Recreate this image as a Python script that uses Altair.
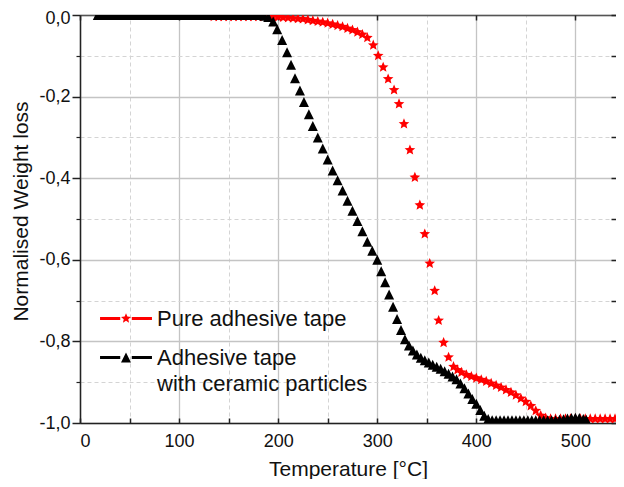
import math
import altair as alt
import pandas as pd

# ---------------- data ----------------
series_names = ["Pure adhesive tape", "Adhesive tape\nwith ceramic particles"]
series_colors = ["#ff0000", "#000000"]

red_temp = [20, 25, 30, 35,
            135, 140, 145, 150, 155, 160, 165, 170, 175, 180, 185, 190,
            195, 200, 205, 210, 215, 220, 225, 230, 235, 240, 245, 250, 255, 260,
            265, 270, 275, 280, 285, 290,
            296, 301, 306, 311, 317, 322, 327, 333, 338, 343, 348, 353, 358, 362,
            367, 372, 377,
            381, 385, 390, 395, 400, 405, 410, 415, 420, 425, 430, 435, 440, 445,
            450, 455, 460, 465, 470,
            475, 480, 485, 490, 495, 500, 505, 510, 515, 520, 525, 530, 535, 540]
red_loss = [0.0, 0.0, 0.0, 0.0,
            -0.004, -0.004, -0.004, -0.004, -0.004, -0.004, -0.004, -0.004, -0.004, -0.004, -0.004, -0.004,
            -0.004, -0.005, -0.006, -0.007, -0.008, -0.009, -0.010, -0.012, -0.014, -0.016, -0.018, -0.020, -0.023, -0.026,
            -0.029, -0.033, -0.037, -0.042, -0.048, -0.056,
            -0.074, -0.100, -0.128, -0.157, -0.184, -0.218, -0.267, -0.331, -0.398, -0.466, -0.537, -0.609, -0.676, -0.749,
            -0.803, -0.839, -0.862,
            -0.870, -0.876, -0.882, -0.886, -0.890, -0.894, -0.898, -0.903, -0.908, -0.913, -0.919, -0.925, -0.932, -0.940,
            -0.948, -0.958, -0.970, -0.982, -0.988,
            -0.990, -0.990, -0.990, -0.990, -0.990, -0.990, -0.990, -0.990, -0.990, -0.990, -0.990, -0.990, -0.990, -0.990]

black_temp = [18, 22, 26, 30, 34, 38, 42, 46, 50, 54, 58, 62, 66, 70, 74, 78, 82, 86, 90, 94,
              98, 102, 106, 110, 114, 118, 122, 126, 130, 134, 138, 142, 146, 150, 154, 158,
              162, 166, 170, 174, 178, 182, 186, 190,
              195, 199, 204, 209, 213, 217, 222, 226, 231, 235, 240, 245, 250, 255, 260, 265,
              270, 275, 280, 285, 290, 295, 300, 304, 308, 312, 316, 320, 324, 328, 332, 336,
              340, 344, 348, 352, 356, 360, 364, 368, 372, 376, 380, 384, 388, 392, 396, 400,
              404, 408, 412, 416,
              420, 424, 428, 432, 436, 440, 444, 448, 452, 456, 460, 464, 468, 472, 476, 480,
              484, 488, 492, 496, 500, 504, 508, 511]
black_loss = [0.0, 0.0, 0.0, 0.0, 0.0, 0.0, 0.0, 0.0, 0.0, 0.0, 0.0, 0.0, 0.0, 0.0, 0.0, 0.0, 0.0, 0.0, 0.0, 0.0,
              0.0, 0.0, 0.0, 0.0, 0.0, 0.0, 0.0, 0.0, 0.0, 0.0, 0.0, 0.0, 0.0, 0.0, 0.0, 0.0,
              0.0, 0.0, 0.0, 0.0, 0.0, 0.0, -0.002, -0.005,
              -0.016, -0.035, -0.061, -0.091, -0.122, -0.155, -0.185, -0.213, -0.243, -0.272, -0.300, -0.327, -0.354, -0.381, -0.405, -0.430,
              -0.455, -0.480, -0.505, -0.530, -0.556, -0.578, -0.600, -0.628, -0.655, -0.685, -0.715, -0.745, -0.772, -0.795, -0.810, -0.822,
              -0.832, -0.840, -0.846, -0.852, -0.857, -0.862, -0.867, -0.873, -0.879, -0.886, -0.893, -0.903, -0.915, -0.928, -0.941, -0.953,
              -0.968, -0.982, -0.990, -0.993,
              -0.993, -0.993, -0.993, -0.993, -0.993, -0.993, -0.993, -0.993, -0.993, -0.993, -0.993, -0.993, -0.993, -0.993, -0.993, -0.993,
              -0.992, -0.991, -0.989, -0.988, -0.987, -0.988, -0.990, -0.992]

x_major = [0, 100, 200, 300, 400, 500]
x_minor = [50, 150, 250, 350, 450]
x_all = [0, 50, 100, 150, 200, 250, 300, 350, 400, 450, 500]
y_major = [-1.0, -0.8, -0.6, -0.4, -0.2, 0.0]
y_minor = [-0.9, -0.7, -0.5, -0.3, -0.1]
y_all = [-1.0, -0.9, -0.8, -0.7, -0.6, -0.5, -0.4, -0.3, -0.2, -0.1, 0.0]
x_domain = [0, 541]
y_domain = [-1.0, 0.0]

FONT = "Liberation Sans"


# ---------------- symbol paths ----------------
def star_path(scale=1.0, dy=0.0):
    pts = []
    for i in range(10):
        ang = -math.pi / 2 + i * math.pi / 5
        r = 1.0 if i % 2 == 0 else 0.45
        pts.append((scale * r * math.cos(ang), dy + scale * r * math.sin(ang)))
    return "M" + "L".join(f"{x:.3f},{y:.3f}" for x, y in pts) + "Z"


def tri_path(scale=1.0, dy=0.0):
    return (f"M0,{dy - scale:.3f}L{scale:.3f},{dy + scale:.3f}"
            f"L{-scale:.3f},{dy + scale:.3f}Z")


def side_lines(dy=0.0, inner=1.1, outer=4.95, half=0.29):
    return (f"M{-outer},{dy - half:.3f}L{-inner},{dy - half:.3f}L{-inner},{dy + half:.3f}L{-outer},{dy + half:.3f}Z"
            f"M{inner},{dy - half:.3f}L{outer},{dy - half:.3f}L{outer},{dy + half:.3f}L{inner},{dy + half:.3f}Z")


LEG_DY = -1.43
STAR = star_path()
TRI = tri_path()
STAR_LEG = star_path(1.0, LEG_DY) + side_lines(LEG_DY)
TRI_LEG = tri_path(0.953, LEG_DY) + side_lines(LEG_DY)

red_df = pd.DataFrame({"T": red_temp, "W": red_loss})
black_df = pd.DataFrame({"T": black_temp, "W": black_loss})
legend_df = pd.DataFrame({"s": series_names})

xs = alt.Scale(domain=x_domain, nice=False, zero=False)
ys = alt.Scale(domain=y_domain, nice=False, zero=False)

y_label_expr = ("(datum.value < -0.00001 ? '-' : '') + "
                "replace(format(abs(datum.value), '.1f'), '.', ',')")

# main axes (bottom / left)
x_main = alt.Axis(orient="bottom", values=x_major, format="d", labelFont=FONT, labelFontSize=18,
                  labelColor="#111111", labelPadding=9, ticks=False, domain=True, domainColor="#222222",
                  domainWidth=1.5, grid=True, gridColor="#c4c4c4", gridWidth=1.3,
                  title="Temperature [°C]", titleFont=FONT, titleFontSize=21, titleFontWeight="normal",
                  titleColor="#111111", titleBaseline="alphabetic", titleY=52)
y_main = alt.Axis(orient="left", values=y_major, labelExpr=y_label_expr, labelFont=FONT, labelFontSize=18,
                  labelColor="#111111", labelPadding=2,
                  labelOffset={"condition": {"test": "datum.value > -0.05", "value": 3}, "value": 0},
                  ticks=True, tickSize=8, tickColor="#222222",
                  tickWidth=1.5, domain=True, domainColor="#222222", domainWidth=1.5, grid=True,
                  gridColor="#c4c4c4", gridWidth=1.3,
                  title="Normalised Weight loss", titleFont=FONT, titleFontSize=21,
                  titleFontWeight="normal", titleColor="#111111", titleBaseline="middle",
                  titleAlign="center", titleX=-59, titleY=196, titleAngle=270)

# minor grid axes (top / right)
x_minor_ax = alt.Axis(orient="top", values=x_minor, labels=False, ticks=False, domain=True,
                      domainColor="#555555", domainWidth=1.5, grid=True, gridColor="#d4d4d4",
                      gridDash=[4, 3], gridWidth=1, title=None)
y_minor_ax = alt.Axis(orient="right", values=y_minor, labels=False, ticks=False, domain=False,
                      grid=True, gridColor="#d4d4d4", gridDash=[4, 3], gridWidth=1, title=None)

# inward ticks
x_ticks_in = alt.Axis(orient="bottom", values=x_all, offset=-5, labels=False, ticks=True, tickSize=5,
                      tickColor="#222222", tickWidth=1.5, domain=False, grid=False, title=None)
y_ticks_minor = alt.Axis(orient="left", values=y_minor, labels=False, ticks=True, tickSize=4,
                         tickColor="#222222", tickWidth=1.2, domain=False, grid=False, title=None)
x_ticks_top = alt.Axis(orient="top", values=x_major, offset=-5, labels=False, ticks=True, tickSize=5,
                       tickColor="#222222", tickWidth=1.5, domain=False, grid=False, title=None)
y_ticks_right = alt.Axis(orient="right", values=y_all, offset=-5, labels=False, ticks=True, tickSize=5,
                         tickColor="#222222", tickWidth=1.5, domain=False, grid=False, title=None)

red_layer = alt.Chart(red_df).mark_point(
    shape=STAR, filled=True, color="#ff0000", size=125, opacity=1, strokeWidth=0, clip=True
).encode(
    x=alt.X("T:Q", scale=xs, axis=x_main),
    y=alt.Y("W:Q", scale=ys, axis=y_main),
)

black_layer = alt.Chart(black_df).mark_point(
    shape=TRI, filled=True, color="#000000", size=100, opacity=1, strokeWidth=0, clip=True
).encode(
    x=alt.X("T:Q", scale=xs, axis=x_minor_ax),
    y=alt.Y("W:Q", scale=ys, axis=y_minor_ax),
)

ticks_layer1 = alt.Chart(red_df).mark_point(opacity=0, clip=True).encode(
    x=alt.X("T:Q", scale=xs, axis=x_ticks_in),
    y=alt.Y("W:Q", scale=ys, axis=y_ticks_minor),
)
ticks_layer2 = alt.Chart(red_df).mark_point(opacity=0, clip=True).encode(
    x=alt.X("T:Q", scale=xs, axis=x_ticks_top),
    y=alt.Y("W:Q", scale=ys, axis=y_ticks_right),
)

leg = alt.Legend(orient="none", legendX=35, legendY=300, title=None, labelFont=FONT,
                 labelFontSize=22, labelColor="#111111", labelBaseline="alphabetic",
                 labelExpr="split(datum.label, '\\n')", labelLimit=500, labelOffset=20,
                 symbolSize=110, symbolStrokeWidth=0, rowPadding=17, padding=0)

legend_layer = alt.Chart(legend_df).transform_filter("false").mark_point(filled=True, opacity=1).encode(
    color=alt.Color("s:N", scale=alt.Scale(domain=series_names, range=series_colors), legend=leg),
    shape=alt.Shape("s:N", scale=alt.Scale(domain=series_names, range=[STAR_LEG, TRI_LEG]), legend=leg),
)

chart = alt.layer(
    red_layer, black_layer, ticks_layer1, ticks_layer2, legend_layer
).resolve_axis(
    x="independent", y="independent"
).properties(
    width=536, height=408,
    autosize=alt.AutoSizeParams(type="none"),
    padding={"left": 72, "top": 7, "right": 0, "bottom": 56},
    background="white",
).configure_view(
    stroke="transparent"
).configure(
    style={"guide-label": {"lineHeight": 26}}
)

chart.save("out.html", embed_options={"renderer": "svg", "actions": False})
